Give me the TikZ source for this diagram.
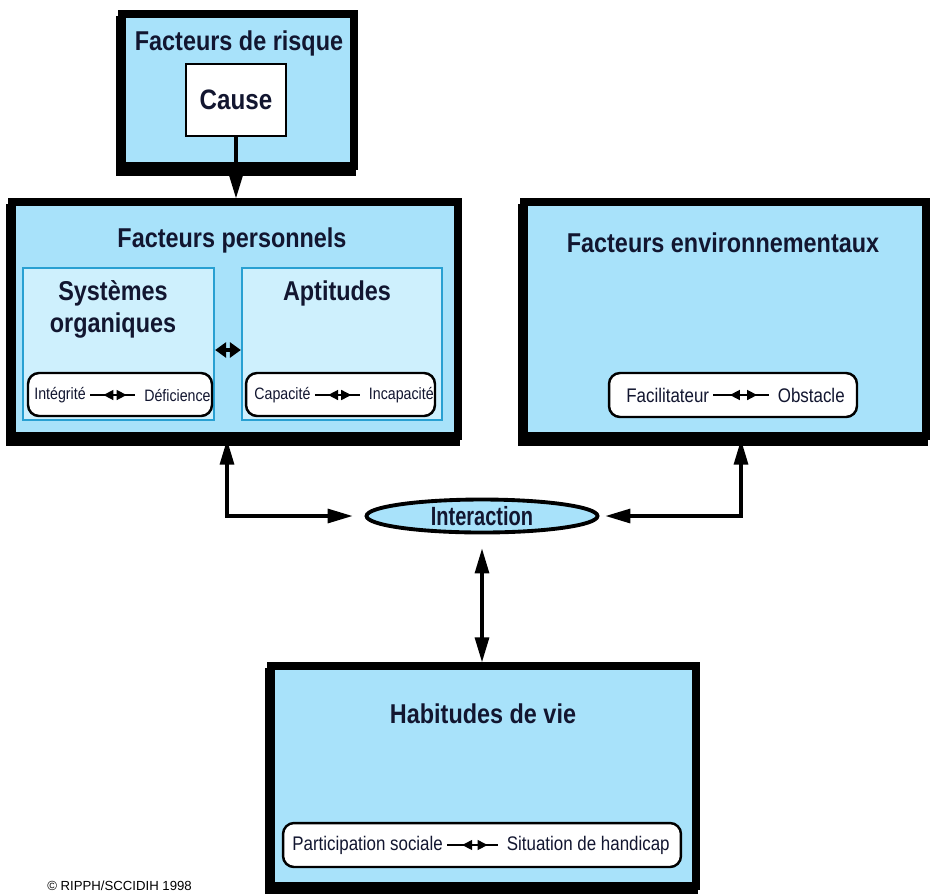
\documentclass[tikz,border=0pt]{standalone}
\usepackage{fontspec}
\setmainfont{Liberation Sans}
\newfontfamily\narrowfont[FakeStretch=0.86]{Liberation Sans}
\newfontfamily\tightfont[FakeStretch=0.76]{Liberation Sans}
\usetikzlibrary{arrows.meta,shapes.geometric,shadows,decorations.markings}
\definecolor{boxblue}{RGB}{168,226,250}
\definecolor{paleblue}{RGB}{206,240,253}
\definecolor{edgeblue}{RGB}{40,160,210}
\definecolor{inkblue}{RGB}{18,22,48}

\begin{document}
\begin{tikzpicture}[x=0.02cm,y=-0.02cm]
\tikzstyle{every node}+=[inner sep=0pt, text=inkblue, font=\narrowfont]
\tikzstyle{bigbox}=[draw=black, line width=4.2pt, fill=boxblue, drop shadow={shadow xshift=-0.04cm, shadow yshift=-0.12cm, opacity=1, fill=black, draw=black, line width=4.2pt}]
\tikzstyle{subbox}=[draw=edgeblue, line width=1.3pt, fill=paleblue]
\tikzstyle{pill}=[draw=black, line width=1.4pt, fill=white, rounded corners=0.22cm]
\tikzstyle{head}=[font=\narrowfont\bfseries\fontsize{15.5}{18.2}\selectfont]
\tikzstyle{word}=[font=\narrowfont\fontsize{11.2}{13}\selectfont]
\tikzstyle{smallword}=[font=\narrowfont\fontsize{9.4}{11}\selectfont]
\tikzstyle{link}=[line width=1.8pt, {Triangle[length=0.5cm,width=0.28cm]}-{Triangle[length=0.5cm,width=0.28cm]}]
\tikzstyle{pilllink}=[line width=0.9pt, shorten <=0.08cm, shorten >=0.18cm, postaction={decorate}, decoration={markings, mark=at position 0.3 with {\arrowreversed{Triangle[length=0.2cm,width=0.2cm]}}, mark=at position 0.7 with {\arrow{Triangle[length=0.2cm,width=0.2cm]}}}]
\useasboundingbox (0,0) rectangle (935,893);

\node[bigbox, minimum width=4.64cm, minimum height=3.04cm] (risque) at (238,90) {};
\node[head] (risquetitle) at (239,43) {Facteurs de risque};
\node[draw=black, line width=1.6pt, fill=white, minimum width=2.0cm, minimum height=1.44cm, font=\narrowfont\bfseries\fontsize{16}{18}\selectfont] (cause) at (236,100) {Cause};

\node[bigbox, minimum width=8.92cm, minimum height=4.68cm] (perso) at (235,319) {};
\node[head] (persotitle) at (232,240) {Facteurs personnels};
\node[subbox, minimum width=3.82cm, minimum height=3.04cm] (systemes) at (118.5,344) {};
\node[subbox, minimum width=4.0cm, minimum height=3.04cm] (aptitudes) at (342,344) {};
\node[head, align=center] (systitle) at (113,309) {Systèmes\\organiques};
\node[head] (apttitle) at (337,293) {Aptitudes};
\node[pill, minimum width=3.68cm, minimum height=0.86cm] (pillsys) at (120,394.5) {};
\node[smallword, anchor=west] (integrite) at (34,395) {Intégrité};
\node[smallword, anchor=east] (deficience) at (211,395) {Déficience};
\node[pill, minimum width=3.78cm, minimum height=0.86cm] (pillapt) at (340.5,394.5) {};
\node[smallword, anchor=west] (capacite) at (254,395) {Capacité};
\node[smallword, anchor=east] (incapacite) at (434,395) {Incapacité};

\node[bigbox, minimum width=8.04cm, minimum height=4.68cm] (envir) at (725,319) {};
\node[head] (envirtitle) at (723,243) {Facteurs environnementaux};
\node[pill, minimum width=4.96cm, minimum height=0.88cm] (pillenv) at (733,395) {};
\node[word, anchor=west] (facilitateur) at (626,395) {Facilitateur};
\node[word, anchor=east] (obstacle) at (845,395) {Obstacle};

\node[ellipse, draw=black, line width=2.2pt, fill=boxblue, minimum width=4.62cm, minimum height=0.66cm, font=\tightfont\bfseries\fontsize{15}{17}\selectfont] (interaction) at (482,516) {Interaction};

\node[bigbox, minimum width=8.5cm, minimum height=4.4cm] (habitudes) at (483.5,776) {};
\node[head] (habtitle) at (483,714) {Habitudes de vie};
\node[pill, minimum width=7.96cm, minimum height=0.88cm] (pillhab) at (482,845) {};
\node[word, anchor=west] (participation) at (292,845) {Participation sociale};
\node[word, anchor=east] (situation) at (670,845) {Situation de handicap};

\node[anchor=south west, text=black, font=\fontsize{7.5}{8}\selectfont] (copyright) at (47,891) {© RIPPH/SCCIDIH 1998};

\coordinate (leftbend) at (227,516);
\coordinate (rightbend) at (741,516);
\draw[line width=1.8pt, -{Triangle[length=0.62cm,width=0.36cm]}] (cause.south) -- (cause.south |- perso.north);
\draw[line width=2pt, {Triangle[length=0.22cm,width=0.3cm]}-{Triangle[length=0.22cm,width=0.3cm]}] ([yshift=-0.12cm]systemes.east) -- ([yshift=-0.12cm]aptitudes.west);
\draw[link, shorten >=0.24cm] (perso.south -| leftbend) |- (interaction.west);
\draw[link, shorten >=0.12cm] (envir.south -| rightbend) |- (interaction.east);
\draw[link, shorten <=0.28cm] (interaction.south) -- (interaction.south |- habitudes.north);
\draw[pilllink] (integrite) -- (deficience);
\draw[pilllink] (capacite) -- (incapacite);
\draw[pilllink] (facilitateur) -- (obstacle);
\draw[pilllink] (participation) -- (situation);
\end{tikzpicture}
\end{document}
